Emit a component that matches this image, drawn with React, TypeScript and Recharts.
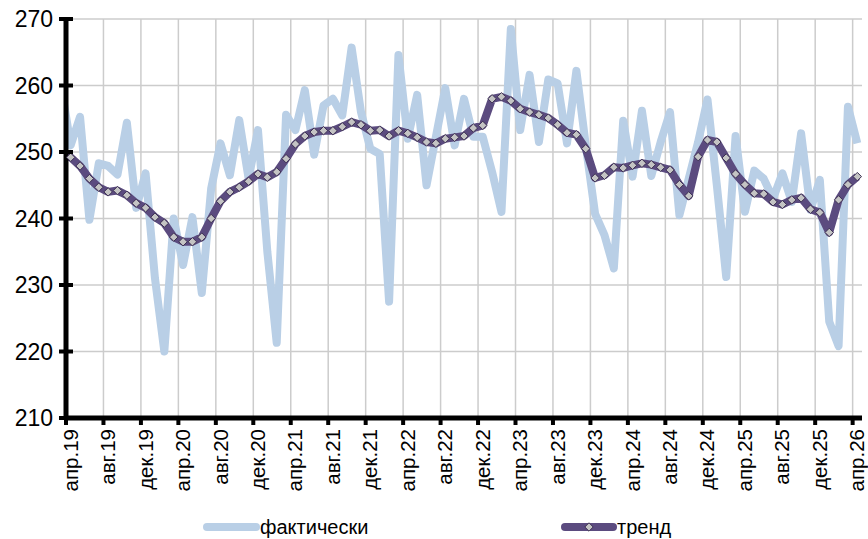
import { LineChart, Line, XAxis, YAxis, CartesianGrid } from 'recharts'

// monthly series, mar.19 .. apr.26 (first month falls just left of the axis)
const MONTH_NAMES = ['янв', 'фев', 'мар', 'апр', 'май', 'июн', 'июл', 'авг', 'сен', 'окт', 'ноя', 'дек']

const TICK_LABELS = [
  'апр.19', 'авг.19', 'дек.19', 'апр.20', 'авг.20', 'дек.20', 'апр.21', 'авг.21',
  'дек.21', 'апр.22', 'авг.22', 'дек.22', 'апр.23', 'авг.23', 'дек.23', 'апр.24',
  'авг.24', 'дек.24', 'апр.25', 'авг.25', 'дек.25', 'апр.26',
]

const ACTUAL = [
  259.8, 251, 255.3, 239.8, 248.3, 247.9, 246.6, 254.4, 241.6, 246.8, 231, 220,
  240, 233, 240.2, 228.8, 244.5, 251.3, 246.5, 254.8, 246, 253.3, 235, 221.3,
  255.6, 253.3, 259.3, 249.6, 257, 258, 255.5, 265.7, 256, 250.5, 249.7, 227.5,
  264.6, 252, 258.6, 245, 252.3, 259.6, 251, 258, 252.3, 252.3, 247, 241,
  268.5, 253.3, 261.6, 251.5, 260.9, 260.3, 251.3, 262.2, 251, 240.7, 237.5, 232.5,
  254.7, 246.3, 256.2, 246.4, 251.5, 256, 240.5, 246, 251.5, 257.9, 245, 231.2,
  252.4, 241, 247.2, 246, 243, 246.8, 242.5, 252.8, 241.3, 245.8, 224.5, 220.8,
  256.8, 251.3,
]

const TREND = [
  249.6, 249.2, 247.9, 246.0, 244.7, 244.0, 244.2, 243.5, 242.3, 241.6, 240.2, 239.3,
  237.2, 236.5, 236.5, 237.2, 240.0, 242.6, 244.0, 244.7, 245.6, 246.7, 246.2, 247.0,
  249.0, 251.2, 252.4, 253.0, 253.2, 253.2, 253.8, 254.5, 254.1, 253.2, 253.3, 252.4,
  253.2, 252.8, 252.2, 251.5, 251.3, 252.0, 252.2, 252.4, 253.6, 254.0, 258.0, 258.3,
  257.7, 256.5, 256.0, 255.6, 255.1, 254.1, 252.9, 252.6, 250.5, 246.1, 246.5, 247.7,
  247.6, 248.0, 248.3, 248.1, 247.7, 247.3, 245.1, 243.4, 249.3, 251.8, 251.5, 249.1,
  246.7, 245.1, 243.8, 243.7, 242.5, 242.1, 242.8, 243.1, 241.4, 240.9, 237.9, 242.8,
  245.1, 246.3,
]

const Y_TICKS = [210, 220, 230, 240, 250, 260, 270]

const data = ACTUAL.map((v, i) => {
  const m = i + 2 // index 0 = march 2019
  return {
    idx: i - 1,
    month: `${MONTH_NAMES[m % 12]}.${19 + Math.floor(m / 12)}`,
    actual: v,
    trend: TREND[i],
  }
})

const X_TICKS = TICK_LABELS.map((_, j) => j * 4 - 0.5)

const FONT = '"Liberation Sans", Arial, sans-serif'
const W = 868
const H = 539
const PLOT_LEFT = 66
const PLOT_RIGHT = 862
const PLOT_BOTTOM = 418
const BAND = (PLOT_RIGHT - PLOT_LEFT) / 85

const LIGHT = '#b9cfe6'
const PURPLE = '#5b4b7f'

function YTick({ y, payload }: any) {
  return (
    <g>
      <line x1={59} x2={73} y1={y} y2={y} stroke="#000" strokeWidth={4} />
      <text x={53} y={y} dy={8} textAnchor="end" fontSize={23} fontFamily={FONT} fill="#000">
        {payload.value}
      </text>
    </g>
  )
}

function XTick({ x, payload }: any) {
  const j = Math.round((payload.value + 0.5) / 4)
  const cx = x + BAND / 2
  return (
    <g>
      <line x1={x} x2={x} y1={PLOT_BOTTOM} y2={PLOT_BOTTOM + 7} stroke="#000" strokeWidth={4} />
      <text
        x={cx}
        y={PLOT_BOTTOM + 11}
        transform={`rotate(-90 ${cx} ${PLOT_BOTTOM + 11})`}
        textAnchor="end"
        dy={7}
        fontSize={20.5}
        fontFamily={FONT}
        fill="#000"
      >
        {TICK_LABELS[j]}
      </text>
    </g>
  )
}

function Diamond({ cx, cy }: any) {
  if (cx == null || cy == null) return null
  const r = 4.2
  return (
    <polygon
      points={`${cx},${cy - r} ${cx + r},${cy} ${cx},${cy + r} ${cx - r},${cy}`}
      fill="#c4c4c4"
      stroke="#3c3052"
      strokeWidth={1}
    />
  )
}

function ChartLegend() {
  return (
    <svg width={W} height={H} style={{ position: 'absolute', left: 0, top: 0, pointerEvents: 'none' }}>
      <line x1={207} x2={256} y1={527} y2={527} stroke={LIGHT} strokeWidth={8} strokeLinecap="round" />
      <text x={260} y={534} fontSize={20} fontFamily={FONT} fill="#000">фактически</text>
      <line x1={565} x2={613} y1={527} y2={527} stroke={PURPLE} strokeWidth={8} strokeLinecap="round" />
      <Diamond cx={589} cy={527} />
      <text x={617} y={534} fontSize={20} fontFamily={FONT} fill="#000">тренд</text>
    </svg>
  )
}

export default function App() {
  return (
    <div style={{ position: 'absolute', left: 0, top: 0, width: W, height: H, background: '#fff' }}>
      <LineChart width={W} height={H} data={data} margin={{ top: 19, right: W - PLOT_RIGHT, left: 0, bottom: 0 }}>
        <CartesianGrid stroke="#cccccc" strokeWidth={1.5} horizontalValues={Y_TICKS} verticalValues={X_TICKS} />
        <XAxis
          dataKey="idx"
          type="number"
          domain={[-0.5, 84.5]}
          allowDataOverflow
          ticks={X_TICKS}
          interval={0}
          height={H - PLOT_BOTTOM}
          axisLine={{ stroke: '#000', strokeWidth: 5 }}
          tickLine={false}
          tick={<XTick />}
        />
        <YAxis
          type="number"
          domain={[210, 270]}
          ticks={Y_TICKS}
          interval={0}
          width={PLOT_LEFT}
          axisLine={{ stroke: '#000', strokeWidth: 5 }}
          tickLine={false}
          tick={<YTick />}
        />
        <Line
          dataKey="actual"
          name="фактически"
          stroke={LIGHT}
          strokeWidth={8}
          strokeLinejoin="round"
          dot={false}
          isAnimationActive={false}
        />
        <Line
          dataKey="trend"
          name="тренд"
          stroke={PURPLE}
          strokeWidth={8}
          strokeLinejoin="round"
          dot={(p: any) => <Diamond key={p.index} cx={p.cx} cy={p.cy} />}
          isAnimationActive={false}
        />
      </LineChart>
      <ChartLegend />
    </div>
  )
}
